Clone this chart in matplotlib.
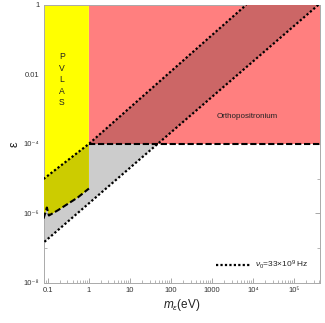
import matplotlib
matplotlib.use("Agg")
import matplotlib.pyplot as plt
from matplotlib.patches import Polygon, Rectangle
from matplotlib.lines import Line2D
from matplotlib.ticker import LogLocator, FixedLocator, FixedFormatter, NullFormatter

plt.rcParams['font.family'] = ['Liberation Sans', 'DejaVu Sans']
plt.rcParams['mathtext.fontset'] = 'custom'
plt.rcParams['mathtext.rm'] = 'Liberation Sans'
plt.rcParams['mathtext.it'] = 'Liberation Sans:italic'

# axis ranges (eV, epsilon)
m_min, m_max = 0.0785, 4.3e5
eps_min, eps_max = 1e-8, 1.0

# upper dotted line of the v0 band
upper_m = [0.0785, 1.0, 6.8e3]
upper_eps = [9.8e-6, 1e-4, 1.0]
# lower dotted line of the v0 band
lower_m = [3.9e5, 0.0785]
lower_eps = [1.0, 1.45e-7]

# PVLAS lower bound (dashed), left to right
pvlas_m = [0.0785, 0.0945, 0.106, 0.175, 0.54, 1.0]
pvlas_eps = [7.1e-7, 1.48e-6, 8.7e-7, 1.23e-6, 2.9e-6, 5.2e-6]

# orthopositronium bound
ops_eps = 1e-4
ops_m_start = 1.0

xtick_vals = [0.1, 1, 10, 100, 1000, 1e4, 1e5]
xtick_labels = ['0.1', '1', '10', '100', '1000', '10⁴', '10⁵']
ytick_vals = [1e-8, 1e-6, 1e-4, 1e-2, 1]
ytick_labels = ['10⁻⁸', '10⁻⁶', '10⁻⁴', '0.01', '1']

grey = '#cccccc'
red = '#ff7f7f'
darkred = '#cc6666'
yellow = '#ffff00'
olive = '#cccc00'

fig = plt.figure(figsize=(3.25, 3.23), dpi=100)
ax = fig.add_axes([0.134, 0.124, 0.851, 0.861])
ax.set_xscale('log')
ax.set_yscale('log')
ax.set_xlim(m_min, m_max)
ax.set_ylim(eps_min, eps_max)

band_pts = list(zip(upper_m, upper_eps)) + list(zip(lower_m, lower_eps))
pvlas_pts = [(m_min, eps_max), (1.0, eps_max)] + list(zip(pvlas_m, pvlas_eps))[::-1]

ax.add_patch(Polygon(band_pts, closed=True, facecolor=grey, edgecolor='none', zorder=1))
red_rect = Rectangle((ops_m_start, ops_eps), m_max - ops_m_start, eps_max - ops_eps,
                     facecolor=red, edgecolor='none', zorder=2)
ax.add_patch(red_rect)
yellow_poly = Polygon(pvlas_pts, closed=True, facecolor=yellow, edgecolor='none', zorder=2)
ax.add_patch(yellow_poly)

# overlaps of the band with the two excluded regions
dr = Polygon(band_pts, closed=True, facecolor=darkred, edgecolor='none', zorder=3)
ax.add_patch(dr)
dr.set_clip_path(red_rect)
ol = Polygon(band_pts, closed=True, facecolor=olive, edgecolor='none', zorder=3)
ax.add_patch(ol)
ol.set_clip_path(yellow_poly)

dots = (0, (1, 1))
ax.plot(upper_m, upper_eps, color='black', lw=1.6, ls=dots, zorder=5)
ax.plot(lower_m, lower_eps, color='black', lw=1.6, ls=dots, zorder=5)
ax.plot([ops_m_start, m_max], [ops_eps, ops_eps], color='black', lw=1.5,
        ls=(0, (3, 1.3)), zorder=5)
ax.plot(pvlas_m, pvlas_eps, color='black', lw=1.5, ls=(0, (3, 1.3)), zorder=5)

ax.text(0.22, 7e-3, 'P\nV\nL\nA\nS', fontsize=6.2, ha='center', va='center',
        linespacing=1.35, color='#222222', zorder=6)
ax.text(7e3, 6e-4, 'Orthopositronium', fontsize=5.8, ha='center', va='center',
        color='#222222', zorder=6)

leg_line = Line2D([], [], color='black', lw=1.6, ls=dots)
leg = ax.legend([leg_line], [r'$\nu_0$=33×10$^9$ Hz'], loc='lower right',
                bbox_to_anchor=(0.985, 0.015), frameon=False, fontsize=6,
                handlelength=4.2, handletextpad=0.45)
for t in leg.get_texts():
    t.set_color('#222222')

ax.xaxis.set_major_locator(FixedLocator(xtick_vals))
ax.xaxis.set_major_formatter(FixedFormatter(xtick_labels))
ax.xaxis.set_minor_locator(LogLocator(base=10, subs=range(2, 10), numticks=20))
ax.xaxis.set_minor_formatter(NullFormatter())
ax.yaxis.set_major_locator(FixedLocator(ytick_vals))
ax.yaxis.set_major_formatter(FixedFormatter(ytick_labels))
ax.yaxis.set_minor_locator(FixedLocator([1e-7, 1e-5, 1e-3, 1e-1]))
ax.yaxis.set_minor_formatter(NullFormatter())

ax.tick_params(which='both', direction='in', top=True, right=True, color='#999999',
               labelsize=5.5, labelcolor='#333333', pad=3)
ax.tick_params(which='major', length=3.5, width=0.6)
ax.tick_params(which='minor', length=2, width=0.5)
for s in ax.spines.values():
    s.set_color('#aaaaaa')
    s.set_linewidth(0.7)

ax.set_xlabel(r'$m_\epsilon$(eV)', fontsize=8.5, labelpad=2, color='#222222')
ax.set_ylabel('ε', fontsize=9, labelpad=2, color='#222222')

fig.savefig('out.png', dpi=100)
